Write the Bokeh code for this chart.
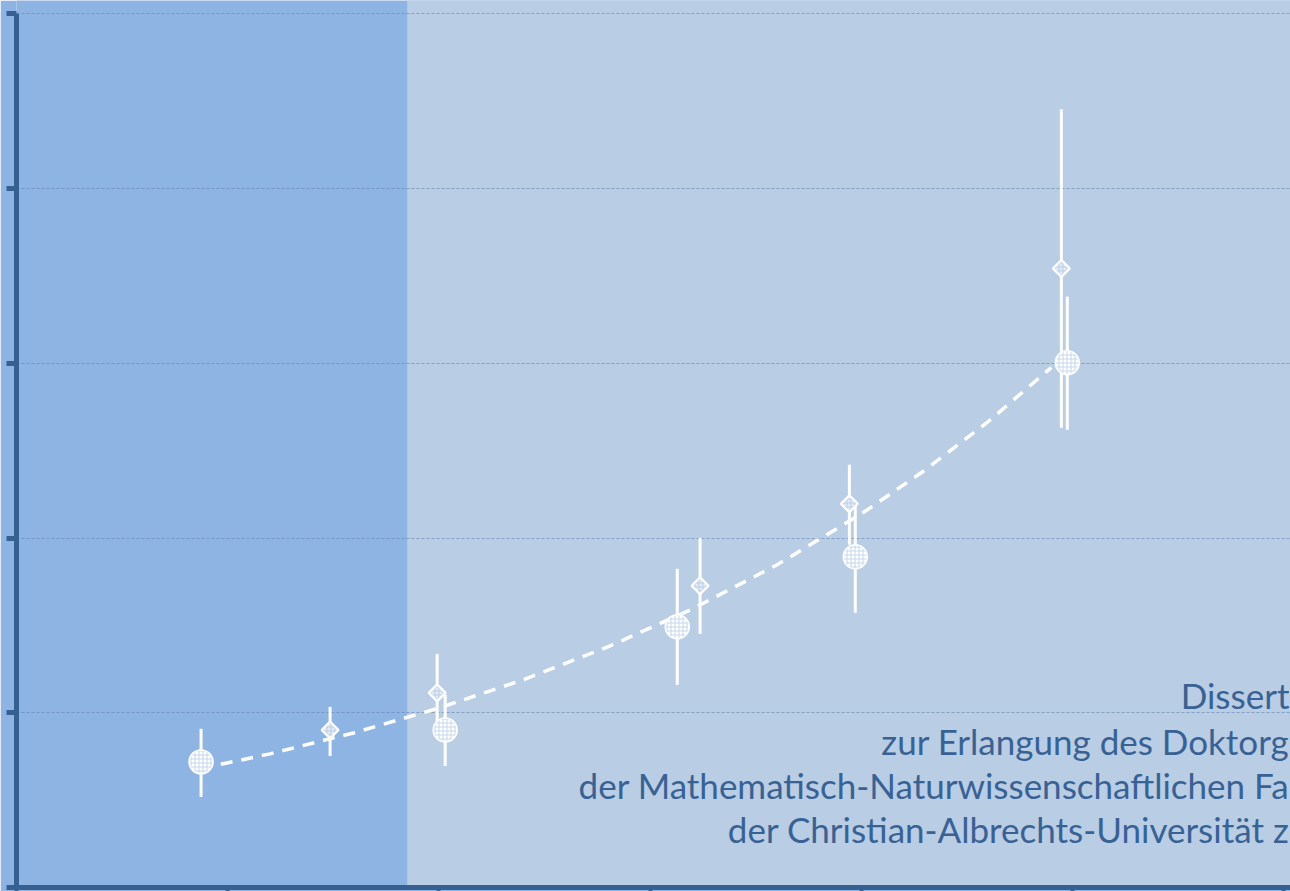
from bokeh.plotting import figure
from bokeh.models import BoxAnnotation, FixedTicker, Range1d, ColumnDataSource
from bokeh.core.properties import value
from bokeh.embed import file_html
from bokeh.resources import INLINE

# ---- data ----
circ_x = [0.874, 2.030, 3.129, 3.972, 4.976]
circ_y = [0.719, 0.902, 1.492, 1.893, 3.004]
circ_lo = [0.518, 0.696, 1.160, 1.572, 2.620]
circ_hi = [0.908, 1.103, 1.824, 2.196, 3.382]

diam_x = [1.485, 1.992, 3.237, 3.944, 4.948]
diam_y = [0.902, 1.114, 1.727, 2.196, 3.543]
diam_lo = [0.753, 0.900, 1.452, 1.962, 2.632]
diam_hi = [1.034, 1.337, 2.002, 2.420, 4.454]

fit_x = [0.87, 1.2, 1.6, 2.0, 2.4, 2.8, 3.2, 3.6, 4.0, 4.3, 4.6, 4.9]
fit_y = [0.68, 0.765, 0.886, 1.027, 1.189, 1.377, 1.594, 1.846, 2.138, 2.387, 2.665, 2.976]

x_ticks = [0, 1, 2, 3, 4, 5, 6]
y_ticks = [0, 1, 2, 3, 4, 5]
grid_ticks = [1, 2, 3, 4, 5]
shade_start = 1.85

# visible (cropped) portion of the cover text
title_lines = [
    "Dissert",
    "zur Erlangung des Doktorg",
    "der Mathematisch-Naturwissenschaftlichen Fa",
    "der Christian-Albrechts-Universität z",
]

# ---- layout ----
X_END = 6.033
Y_END = 5.077
title_x = [6.028, 6.028, 6.028, 6.028]
title_y = [1.099, 0.841, 0.589, 0.337]

DARK = "#8EB4E3"
LIGHT = "#B9CDE5"
AXIS = "#366092"

p = figure(width=1290, height=891,
           x_range=Range1d(0, X_END), y_range=Range1d(0, Y_END),
           output_backend="svg", toolbar_location=None,
           min_border_left=16, min_border_right=0,
           min_border_top=0, min_border_bottom=4)
p.background_fill_color = DARK
p.border_fill_color = DARK
p.outline_line_color = None

box = BoxAnnotation(left=shade_start, fill_color=LIGHT, fill_alpha=1.0,
                    line_alpha=0, level="image")
p.add_layout(box)

p.xgrid.grid_line_color = None
p.ygrid.ticker = FixedTicker(ticks=grid_ticks)
p.ygrid.grid_line_color = "#6A86B2"
p.ygrid.grid_line_alpha = 0.65
p.ygrid.grid_line_width = 1
p.ygrid.grid_line_dash = "3 2"

for ax, ticks in ((p.xaxis[0], x_ticks), (p.yaxis[0], y_ticks)):
    ax.ticker = FixedTicker(ticks=ticks)
    ax.axis_line_color = AXIS
    ax.axis_line_width = 5
    ax.major_tick_line_color = AXIS
    ax.minor_tick_line_color = None
    ax.major_tick_in = 0
    ax.major_label_overrides = {t: "" for t in ticks}
    ax.major_label_standoff = 0
    ax.axis_label = None
p.yaxis.bounds = (0, 5)
p.yaxis.major_tick_out = 10
p.yaxis.major_tick_line_width = 5
p.xaxis.major_tick_out = 4
p.xaxis.major_tick_line_width = 4

# fit line
p.line(fit_x, fit_y, line_color="white", line_width=3.5, line_dash="12 9")

# error bars
p.segment(x0=circ_x, y0=circ_lo, x1=circ_x, y1=circ_hi, line_color="white", line_width=3)
p.segment(x0=diam_x, y0=diam_lo, x1=diam_x, y1=diam_hi, line_color="white", line_width=3)

# markers
p.scatter(circ_x, circ_y, marker="circle", size=24, fill_color="white",
          line_color="white", line_width=1.5,
          hatch_pattern="+", hatch_color="#C5D7EC", hatch_scale=4, hatch_weight=1)
p.scatter(diam_x, diam_y, marker="square", angle=0.7854, size=12,
          fill_color="#E2EAF5", line_color="white", line_width=2.2,
          hatch_pattern="+", hatch_color="#BBCFE7", hatch_scale=4, hatch_weight=1)

# text
src = ColumnDataSource(dict(x=title_x, y=title_y, t=title_lines))
p.text(x="x", y="y", text="t", source=src, text_font=value("Lato"),
       text_font_size="35px", text_color="#386294",
       text_align="right", text_baseline="alphabetic")

open("out.html", "w").write(file_html(p, INLINE))
